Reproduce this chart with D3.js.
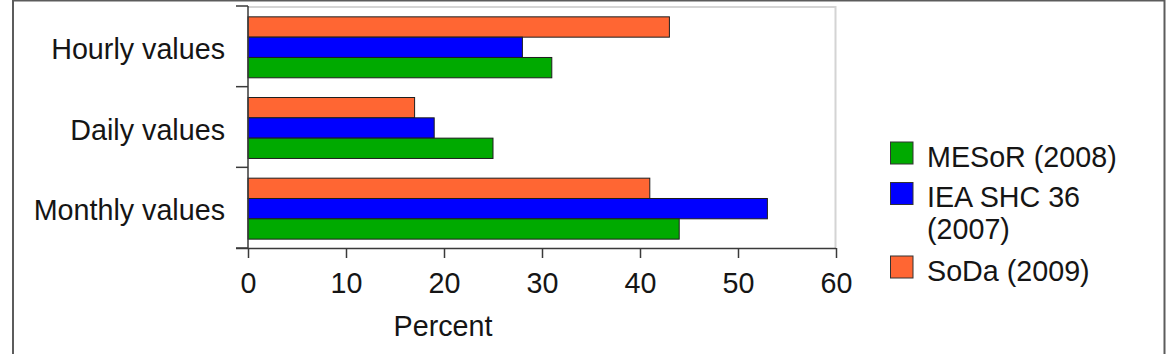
<!DOCTYPE html>
<html>
<head>
<meta charset="utf-8">
<script src="https://cdn.jsdelivr.net/npm/d3@7"></script>
<style>
  html, body { margin: 0; padding: 0; background: #fff; }
  svg { display: block; font-family: "Liberation Sans", Arial, sans-serif; }
</style>
</head>
<body>
<svg id="chart" width="1170" height="354"></svg>
<script>
// ---- data ----
const categories = ["Hourly values", "Daily values", "Monthly values"];
const seriesNames = ["SoDa (2009)", "IEA SHC 36 (2007)", "MESoR (2008)"];
const sodaValues  = [43, 17, 41];
const ieaValues   = [28, 19, 53];
const mesorValues = [31, 25, 44];
const xTicks = [0, 10, 20, 30, 40, 50, 60];
const legendOrder = ["MESoR (2008)", "IEA SHC 36 (2007)", "SoDa (2009)"];
const legendLines = [["MESoR (2008)"], ["IEA SHC 36", "(2007)"], ["SoDa (2009)"]];
const xTitle = "Percent";

const colors = {
  "SoDa (2009)": "#ff6633",
  "IEA SHC 36 (2007)": "#0000ff",
  "MESoR (2008)": "#00aa00"
};
const valuesBySeries = {
  "SoDa (2009)": sodaValues,
  "IEA SHC 36 (2007)": ieaValues,
  "MESoR (2008)": mesorValues
};

const svg = d3.select("#chart");
const FS = 28.7;
const textColor = "#151515";
const axisColor = "#3a3a3a";

// outer frame
svg.append("path")
  .attr("d", "M13,354 V0.5 H1164.5 V354")
  .attr("fill", "none")
  .attr("stroke", "#5c5c5c")
  .attr("stroke-width", 2);

// scales
const x = d3.scaleLinear().domain([0, 60]).range([248, 836]);
const y0 = d3.scaleBand().domain(categories).range([6, 248]).padding(0);
const y1 = d3.scaleBand().domain(seriesNames).range([0, y0.bandwidth()])
  .paddingInner(0).paddingOuter(0.485).align(0.55);

// plot frame (light gray top & right)
svg.append("path")
  .attr("d", `M${x(0)},7 H${x(60) - 0.5} V248`)
  .attr("fill", "none")
  .attr("stroke", "#d4d4d4")
  .attr("stroke-width", 2);

// bars
const g = svg.append("g");
categories.forEach((c, i) => {
  seriesNames.forEach(s => {
    g.append("rect")
      .attr("x", x(0))
      .attr("y", y0(c) + y1(s))
      .attr("width", x(valuesBySeries[s][i]) - x(0))
      .attr("height", y1.bandwidth())
      .attr("fill", colors[s])
      .attr("stroke", "#1e1e1e")
      .attr("stroke-width", 1);
  });
});

// x axis
const xAxis = d3.axisBottom(x).tickValues(xTicks).tickSize(10).tickSizeOuter(0).tickPadding(8);
const gx = svg.append("g").attr("transform", "translate(0,248)").call(xAxis);
gx.select(".domain").attr("stroke", axisColor).attr("stroke-width", 1.5)
  .attr("d", `M236,0.5 H${x(60)}`);
gx.selectAll(".tick line").attr("stroke", axisColor).attr("stroke-width", 1.5);
gx.selectAll(".tick text")
  .attr("font-size", FS)
  .attr("font-family", "Liberation Sans, Arial, sans-serif")
  .attr("fill", textColor)
  .attr("dy", null)
  .attr("y", 45);

// y axis: line and boundary ticks
const boundaries = categories.map(c => y0(c)).concat([y0.range()[1]]);
svg.append("line")
  .attr("x1", x(0)).attr("x2", x(0))
  .attr("y1", y0.range()[0]).attr("y2", y0.range()[1])
  .attr("stroke", axisColor).attr("stroke-width", 1.5);
svg.selectAll(".ytick").data(boundaries).enter().append("line")
  .attr("x1", x(0) - 12).attr("x2", x(0))
  .attr("y1", d => d).attr("y2", d => d)
  .attr("stroke", axisColor).attr("stroke-width", 1.5);

// category labels
svg.selectAll(".ylab").data(categories).enter().append("text")
  .attr("x", x(0) - 23)
  .attr("y", d => y0(d) + y0.bandwidth() / 2 + 12.5)
  .attr("text-anchor", "end")
  .attr("font-size", FS)
  .attr("fill", textColor)
  .text(d => d);

// x title
svg.append("text")
  .attr("x", 443)
  .attr("y", 336)
  .attr("text-anchor", "middle")
  .attr("font-size", FS)
  .attr("fill", textColor)
  .text(xTitle);

// legend
const legendBaselines = [166.5, 207, 280.5];
legendOrder.forEach((s, i) => {
  const b = legendBaselines[i];
  svg.append("rect")
    .attr("x", 890.5).attr("y", b - 24.5)
    .attr("width", 22.5).attr("height", 22)
    .attr("fill", colors[s])
    .attr("stroke", "#333")
    .attr("stroke-width", 1);
  const t = svg.append("text")
    .attr("x", 927).attr("y", b)
    .attr("font-size", FS)
    .attr("fill", textColor);
  legendLines[i].forEach((line, j) => {
    t.append("tspan").attr("x", 927).attr("dy", j === 0 ? 0 : 32).text(line);
  });
});
</script>
</body>
</html>
